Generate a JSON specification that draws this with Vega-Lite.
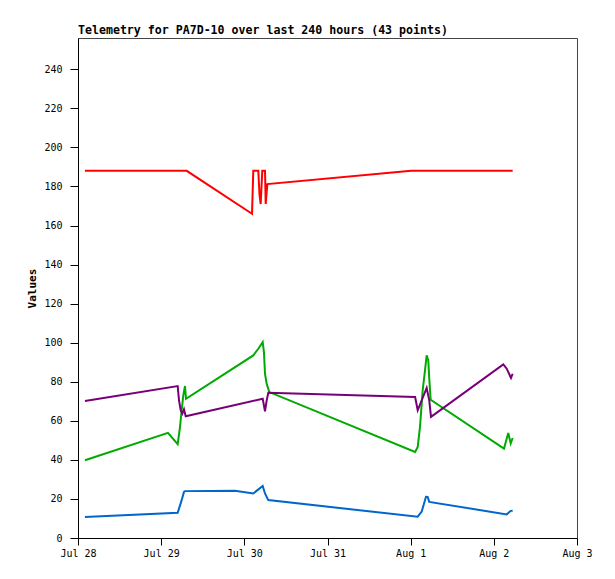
{
  "$schema": "https://vega.github.io/schema/vega-lite/v6.json",
  "autosize": "none",
  "padding": {"left": 78, "top": 38, "right": 38, "bottom": 41},
  "width": 499,
  "height": 500,
  "background": "white",
  "title": {
    "text": "Telemetry for PA7D-10 over last 240 hours (43 points)",
    "anchor": "start",
    "frame": "group",
    "font": "DejaVu Sans Mono",
    "fontSize": 11.6,
    "fontWeight": "bold",
    "color": "black",
    "offset": 1
  },
  "config": {
    "view": {"stroke": "#444", "strokeWidth": 1},
    "axis": {
      "grid": false,
      "domainColor": "black",
      "tickColor": "black",
      "labelColor": "black",
      "labelFont": "DejaVu Sans Mono",
      "labelFontSize": 10,
      "titleFont": "DejaVu Sans Mono",
      "titleFontSize": 11,
      "titleFontWeight": "bold",
      "titleColor": "black"
    }
  },
  "data": {
    "values": [
      {"t": "2024-07-28T02:00", "s": "r", "v": 188},
      {"t": "2024-07-29T07:22", "s": "r", "v": 188},
      {"t": "2024-07-30T02:13", "s": "r", "v": 166},
      {"t": "2024-07-30T02:35", "s": "r", "v": 188},
      {"t": "2024-07-30T04:02", "s": "r", "v": 188},
      {"t": "2024-07-30T04:22", "s": "r", "v": 176},
      {"t": "2024-07-30T04:43", "s": "r", "v": 171},
      {"t": "2024-07-30T05:11", "s": "r", "v": 188},
      {"t": "2024-07-30T05:58", "s": "r", "v": 188},
      {"t": "2024-07-30T06:10", "s": "r", "v": 171},
      {"t": "2024-07-30T06:38", "s": "r", "v": 181.2},
      {"t": "2024-08-01T00:08", "s": "r", "v": 188},
      {"t": "2024-08-02T05:26", "s": "r", "v": 188},

      {"t": "2024-07-28T02:00", "s": "g", "v": 39.8},
      {"t": "2024-07-29T01:58", "s": "g", "v": 53.8},
      {"t": "2024-07-29T04:46", "s": "g", "v": 48},
      {"t": "2024-07-29T05:26", "s": "g", "v": 56.8},
      {"t": "2024-07-29T05:55", "s": "g", "v": 65.4},
      {"t": "2024-07-29T06:23", "s": "g", "v": 73},
      {"t": "2024-07-29T06:53", "s": "g", "v": 77.8},
      {"t": "2024-07-29T07:10", "s": "g", "v": 71.3},
      {"t": "2024-07-30T02:35", "s": "g", "v": 93.5},
      {"t": "2024-07-30T04:02", "s": "g", "v": 96.9},
      {"t": "2024-07-30T05:18", "s": "g", "v": 100.3},
      {"t": "2024-07-30T05:40", "s": "g", "v": 95},
      {"t": "2024-07-30T05:58", "s": "g", "v": 84},
      {"t": "2024-07-30T06:27", "s": "g", "v": 79},
      {"t": "2024-07-30T07:12", "s": "g", "v": 74.7},
      {"t": "2024-08-01T01:17", "s": "g", "v": 44.1},
      {"t": "2024-08-01T02:02", "s": "g", "v": 46.6},
      {"t": "2024-08-01T02:41", "s": "g", "v": 56.8},
      {"t": "2024-08-01T03:28", "s": "g", "v": 75.6},
      {"t": "2024-08-01T04:08", "s": "g", "v": 85.8},
      {"t": "2024-08-01T04:37", "s": "g", "v": 93.5},
      {"t": "2024-08-01T05:05", "s": "g", "v": 90.9},
      {"t": "2024-08-01T05:22", "s": "g", "v": 81.6},
      {"t": "2024-08-01T05:46", "s": "g", "v": 70.8},
      {"t": "2024-08-02T02:56", "s": "g", "v": 45.8},
      {"t": "2024-08-02T04:10", "s": "g", "v": 53.8},
      {"t": "2024-08-02T04:52", "s": "g", "v": 48.4},
      {"t": "2024-08-02T05:26", "s": "g", "v": 51.2},

      {"t": "2024-07-28T02:00", "s": "p", "v": 70.1},
      {"t": "2024-07-29T04:46", "s": "p", "v": 77.8},
      {"t": "2024-07-29T05:09", "s": "p", "v": 70.5},
      {"t": "2024-07-29T05:38", "s": "p", "v": 65.4},
      {"t": "2024-07-29T06:06", "s": "p", "v": 63.7},
      {"t": "2024-07-29T06:35", "s": "p", "v": 65.9},
      {"t": "2024-07-29T07:05", "s": "p", "v": 62.3},
      {"t": "2024-07-30T05:18", "s": "p", "v": 71.3},
      {"t": "2024-07-30T05:58", "s": "p", "v": 64.9},
      {"t": "2024-07-30T06:27", "s": "p", "v": 70.5},
      {"t": "2024-07-30T06:55", "s": "p", "v": 74.4},
      {"t": "2024-08-01T01:17", "s": "p", "v": 72.2},
      {"t": "2024-08-01T02:02", "s": "p", "v": 65.4},
      {"t": "2024-08-01T04:37", "s": "p", "v": 76.8},
      {"t": "2024-08-01T05:22", "s": "p", "v": 70.5},
      {"t": "2024-08-01T05:52", "s": "p", "v": 62},
      {"t": "2024-08-02T02:44", "s": "p", "v": 88.9},
      {"t": "2024-08-02T03:43", "s": "p", "v": 86.7},
      {"t": "2024-08-02T04:57", "s": "p", "v": 81.9},
      {"t": "2024-08-02T05:26", "s": "p", "v": 84.1},

      {"t": "2024-07-28T02:00", "s": "b", "v": 10.8},
      {"t": "2024-07-29T04:46", "s": "b", "v": 12.9},
      {"t": "2024-07-29T05:55", "s": "b", "v": 19.4},
      {"t": "2024-07-29T06:35", "s": "b", "v": 23.6},
      {"t": "2024-07-29T06:53", "s": "b", "v": 24},
      {"t": "2024-07-29T21:18", "s": "b", "v": 24.2},
      {"t": "2024-07-30T02:35", "s": "b", "v": 22.8},
      {"t": "2024-07-30T05:18", "s": "b", "v": 26.7},
      {"t": "2024-07-30T05:58", "s": "b", "v": 22.8},
      {"t": "2024-07-30T06:55", "s": "b", "v": 19.4},
      {"t": "2024-08-01T02:02", "s": "b", "v": 10.9},
      {"t": "2024-08-01T03:11", "s": "b", "v": 13.5},
      {"t": "2024-08-01T04:25", "s": "b", "v": 21.1},
      {"t": "2024-08-01T04:54", "s": "b", "v": 21},
      {"t": "2024-08-01T05:22", "s": "b", "v": 18.5},
      {"t": "2024-08-02T03:43", "s": "b", "v": 12.1},
      {"t": "2024-08-02T04:52", "s": "b", "v": 13.9},
      {"t": "2024-08-02T05:26", "s": "b", "v": 14}
    ]
  },
  "mark": {"type": "line", "strokeWidth": 2, "clip": true},
  "encoding": {
    "x": {
      "field": "t",
      "type": "temporal",
      "title": null,
      "scale": {
        "domain": [
          {"year": 2024, "month": 7, "date": 28},
          {"year": 2024, "month": 8, "date": 3}
        ]
      },
      "axis": {
        "format": "%b %-d",
        "tickCount": {"interval": "day", "step": 1},
        "tickSize": 7,
        "labelPadding": 3,
        "labelFlush": false,
        "labelOverlap": false
      }
    },
    "y": {
      "field": "v",
      "type": "quantitative",
      "title": "Values",
      "scale": {"domain": [0, 256], "nice": false},
      "axis": {
        "values": [0, 20, 40, 60, 80, 100, 120, 140, 160, 180, 200, 220, 240],
        "tickSize": 8,
        "labelPadding": 8,
        "titlePadding": 6
      }
    },
    "color": {
      "field": "s",
      "type": "nominal",
      "legend": null,
      "scale": {
        "domain": ["r", "g", "p", "b"],
        "range": ["#ff0000", "#00aa00", "#770077", "#0066cc"]
      }
    }
  }
}
